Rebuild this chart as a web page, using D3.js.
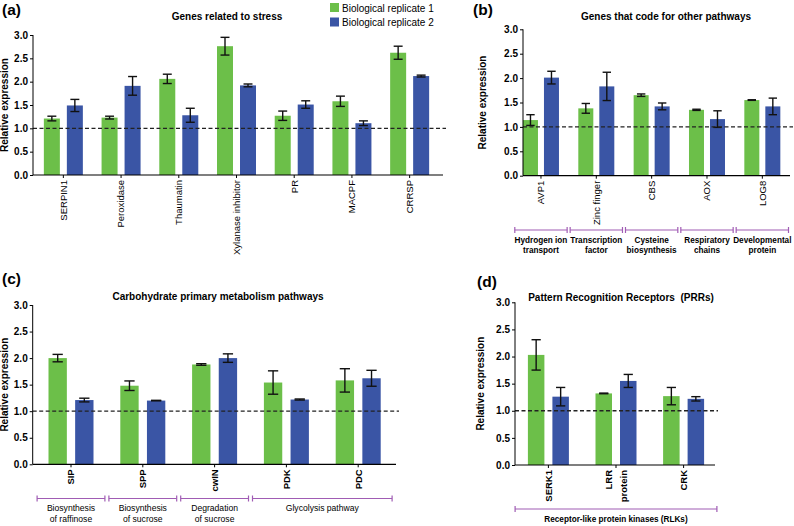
<!DOCTYPE html>
<html>
<head>
<meta charset="utf-8">
<script src="https://cdn.jsdelivr.net/npm/d3@7"></script>
<style>
  body { margin: 0; background: #fff; }
  svg text { font-family: Arial, "Liberation Sans", Helvetica, sans-serif; fill: #000; white-space: pre; }
</style>
</head>
<body>
<div id="chart"></div>
<script>
// values
var seriesNames = ["Biological replicate 1", "Biological replicate 2"];
var yTicks = [0, 0.5, 1.0, 1.5, 2.0, 2.5, 3.0];

var catsA = ["SERPIN1", "Peroxidase", "Thaumatin", "Xylanase inhibitor", "PR", "MACPF", "CRRSP"];
var repA1 = [1.21, 1.23, 2.06, 2.76, 1.27, 1.58, 2.62];
var errA1 = [0.05, 0.03, 0.10, 0.19, 0.10, 0.11, 0.14];
var repA2 = [1.49, 1.91, 1.28, 1.92, 1.51, 1.11, 2.12];
var errA2 = [0.13, 0.20, 0.15, 0.03, 0.08, 0.05, 0.02];

var catsB = ["AVP1", "Zinc finger", "CBS", "AOX", "LOG8"];
var repB1 = [1.14, 1.38, 1.65, 1.35, 1.55];
var errB1 = [0.11, 0.10, 0.025, 0.012, 0.006];
var repB2 = [2.01, 1.83, 1.42, 1.16, 1.42];
var errB2 = [0.13, 0.29, 0.07, 0.17, 0.17];
var groupsB = [["Hydrogen ion", "transport"], ["Transcription", "factor"], ["Cysteine", "biosynthesis"], ["Respiratory", "chains"], ["Developmental", "protein"]];
var spansB = [[0, 0], [1, 1], [2, 2], [3, 3], [4, 4]];

var catsC = ["SIP", "SPP", "cwIN", "PDK", "PDC"];
var repC1 = [2.00, 1.48, 1.88, 1.54, 1.58];
var errC1 = [0.07, 0.09, 0.015, 0.22, 0.22];
var repC2 = [1.21, 1.20, 2.00, 1.22, 1.62];
var errC2 = [0.035, 0.005, 0.08, 0.01, 0.15];
var groupsC = [["Biosynthesis", "of raffinose"], ["Biosynthesis", "of sucrose"], ["Degradation", "of sucrose"], ["Glycolysis pathway"]];
var spansC = [[0, 0], [1, 1], [2, 2], [3, 4]];

var catsD = ["SERK1", "LRR\nprotein", "CRK"];
var repD1 = [2.03, 1.32, 1.27];
var errD1 = [0.28, 0.006, 0.16];
var repD2 = [1.26, 1.55, 1.22];
var errD2 = [0.17, 0.12, 0.04];
var groupsD = [["Receptor-like protein kinases (RLKs)"]];
var spansD = [[0, 2]];

var green = "#6cbf49", blue = "#3a55a5", purple = "#a05cb4";

var svg = d3.select("#chart").append("svg")
    .attr("width", 794)
    .attr("height", 526);

var panels = [
  {tag: "(a)", tagX: 2, tagY: 15, title: "Genes related to stress", titleX: 227, titleY: 20,
   cats: catsA, r1: repA1, e1: errA1, r2: repA2, e2: errA2,
   axisX: 33, top: 35, bottom: 175, band: [34.5, 438.5], axisEnd: 443, pair: 39, gap: 7,
   ylabX: 8, catWeight: "normal"},
  {tag: "(b)", tagX: 473, tagY: 15, title: "Genes that code for other pathways", titleX: 666, titleY: 20,
   cats: catsB, r1: repB1, e1: errB1, r2: repB2, e2: errB2,
   axisX: 523, top: 29.3, bottom: 175.7, band: [513.3, 790], axisEnd: 790, pair: 36, gap: 6,
   ylabX: 486, catWeight: "normal",
   groups: groupsB, spans: spansB, brY: 230, brTextY: 242.5, brWeight: "bold", brInset: 1.5},
  {tag: "(c)", tagX: 2, tagY: 284, title: "Carbohydrate primary metabolism pathways", titleX: 218, titleY: 300,
   cats: catsC, r1: repC1, e1: errC1, r2: repC2, e2: errC2,
   axisX: 32.7, top: 305, bottom: 464.3, band: [35.1, 394.1], axisEnd: 396, pair: 45, gap: 8.3,
   ylabX: 8, catWeight: "bold",
   groups: groupsC, spans: spansC, brY: 498.5, brTextY: 511, brWeight: "normal", brInset: 2},
  {tag: "(d)", tagX: 477, tagY: 287, title: "Pattern Recognition Receptors  (PRRs)", titleX: 621, titleY: 301,
   cats: catsD, r1: repD1, e1: errD1, r2: repD2, e2: errD2,
   axisX: 515, top: 302.3, bottom: 465, band: [514.6, 717.4], axisEnd: 715, pair: 41, gap: 8,
   ylabX: 484, catWeight: "bold",
   groups: groupsD, spans: spansD, brY: 509, brTextY: 522, brWeight: "bold", brInset: 0.5}
];

panels.forEach(function(p) {
  var g = svg.append("g");

  var y = d3.scaleLinear().domain([0, 3]).range([p.bottom, p.top]);
  var x0 = d3.scaleBand().domain(d3.range(p.cats.length)).range(p.band);
  var barW = (p.pair - p.gap) / 2;
  var x1 = d3.scaleBand().domain([0, 1])
      .range([-p.pair / 2, p.pair / 2])
      .paddingInner(p.gap / (barW + p.gap));

  // panel tag + title
  g.append("text").attr("x", p.tagX).attr("y", p.tagY)
    .style("font-size", "15.5px").style("font-weight", "bold").text(p.tag);
  g.append("text").attr("x", p.titleX).attr("y", p.titleY)
    .attr("text-anchor", "middle")
    .style("font-size", "10px").style("font-weight", "bold").text(p.title);

  // bars
  var rows = [];
  p.cats.forEach(function(c, i) {
    rows.push({i: i, s: 0, v: p.r1[i], e: p.e1[i]});
    rows.push({i: i, s: 1, v: p.r2[i], e: p.e2[i]});
  });
  var cx = function(d) { return x0(d.i) + x0.bandwidth() / 2 + x1(d.s); };

  g.selectAll("rect.bar").data(rows).enter().append("rect")
    .attr("class", "bar")
    .attr("x", cx)
    .attr("y", function(d) { return y(d.v); })
    .attr("width", x1.bandwidth())
    .attr("height", function(d) { return y(0) - y(d.v); })
    .attr("fill", function(d) { return d.s == 0 ? green : blue; });

  // error bars
  var cap = x1.bandwidth() * 0.28;
  rows.forEach(function(d) {
    var mx = cx(d) + x1.bandwidth() / 2;
    var eg = g.append("g").attr("stroke", "#111").attr("stroke-width", 1.4);
    eg.append("line").attr("x1", mx).attr("x2", mx)
      .attr("y1", y(d.v + d.e)).attr("y2", y(d.v - d.e));
    [d.v + d.e, d.v - d.e].forEach(function(v) {
      eg.append("line").attr("x1", mx - cap).attr("x2", mx + cap)
        .attr("y1", y(v)).attr("y2", y(v));
    });
  });

  // dashed reference line at 1.0
  g.append("line")
    .attr("x1", p.axisX).attr("x2", p.axisEnd + 3)
    .attr("y1", y(1)).attr("y2", y(1))
    .attr("stroke", "#222").attr("stroke-width", 1.3)
    .attr("stroke-dasharray", "4,2.5");

  // y axis
  var yAxis = d3.axisLeft(y).tickValues(yTicks).tickFormat(d3.format(".1f")).tickSize(3).tickPadding(2);
  var ya = g.append("g").attr("transform", "translate(" + p.axisX + ",0)").call(yAxis);
  ya.select(".domain").attr("d", "M0," + p.top + "V" + p.bottom).attr("stroke", "#000");
  ya.selectAll("text").style("font-size", "10px").style("font-weight", "bold")
    .style("font-family", "Arial, 'Liberation Sans', sans-serif");

  g.append("text")
    .attr("transform", "translate(" + p.ylabX + "," + ((p.top + p.bottom) / 2) + ") rotate(-90)")
    .attr("text-anchor", "middle")
    .style("font-size", "10px").style("font-weight", "bold")
    .text("Relative expression");

  // x axis line + ticks
  g.append("line").attr("x1", p.axisX).attr("x2", p.axisEnd)
    .attr("y1", p.bottom).attr("y2", p.bottom)
    .attr("stroke", "#000").attr("stroke-width", 1.2);
  p.cats.forEach(function(c, i) {
    var tx = x0(i) + x0.bandwidth() / 2;
    g.append("line").attr("x1", tx).attr("x2", tx)
      .attr("y1", p.bottom).attr("y2", p.bottom + 3)
      .attr("stroke", "#000");
    var lines = c.split("\n");
    var t = g.append("text")
      .attr("transform", "translate(" + tx + "," + (p.bottom + 5) + ") rotate(-90)")
      .attr("text-anchor", "end")
      .style("font-size", "9.5px").style("font-weight", p.catWeight);
    lines.forEach(function(l, k) {
      t.append("tspan").attr("x", 0)
        .attr("y", ((k - (lines.length - 1) / 2) * 1.65 + 0.35) + "em")
        .text(l);
    });
  });

  // category group brackets
  if (p.groups) {
    p.groups.forEach(function(lab, k) {
      var a = x0(p.spans[k][0]) + p.brInset;
      var b = x0(p.spans[k][1]) + x0.bandwidth() - p.brInset;
      var bg = g.append("g").attr("stroke", purple).attr("stroke-width", 1.2);
      bg.append("line").attr("x1", a).attr("x2", b).attr("y1", p.brY).attr("y2", p.brY);
      bg.append("line").attr("x1", a).attr("x2", a).attr("y1", p.brY - 3).attr("y2", p.brY + 3);
      bg.append("line").attr("x1", b).attr("x2", b).attr("y1", p.brY - 3).attr("y2", p.brY + 3);
      lab.forEach(function(l, j) {
        g.append("text").attr("x", (a + b) / 2).attr("y", p.brTextY + j * 10.5)
          .attr("text-anchor", "middle")
          .style("font-size", p.brWeight == "bold" ? "8.2px" : "8.6px")
          .style("font-weight", p.brWeight)
          .text(l);
      });
    });
  }
});

// legend
var legend = svg.append("g").attr("transform", "translate(330,3)");
seriesNames.forEach(function(n, i) {
  legend.append("rect").attr("x", 0).attr("y", i * 14.5).attr("width", 9).attr("height", 9)
    .attr("fill", i == 0 ? green : blue);
  legend.append("text").attr("x", 12).attr("y", i * 14.5 + 8.5)
    .style("font-size", "10px").text(n);
});
</script>
</body>
</html>
